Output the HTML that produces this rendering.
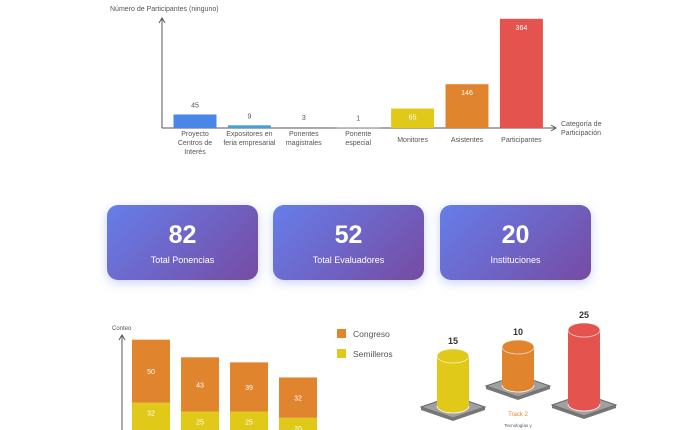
<!DOCTYPE html>
<html><head><meta charset="utf-8">
<style>
body{margin:0;background:#fff;font-family:"Liberation Sans",sans-serif;}
#wrap{position:relative;width:700px;height:430px;overflow:hidden;}
.card{position:absolute;top:205px;width:151px;height:75px;border-radius:11px;background:linear-gradient(135deg,#667eea,#764ba2);box-shadow:0 3px 10px rgba(102,126,234,0.35);color:#fff;text-align:center;}
.card .n{font-size:25px;font-weight:bold;margin-top:16px;line-height:28px;}
.card .l{font-size:9px;margin-top:6px;}
</style></head><body>
<div id="wrap">
<svg id="top" width="700" height="430" style="position:absolute;left:0;top:0"></svg>
<div class="card" style="left:107px"><div class="n">82</div><div class="l">Total Ponencias</div></div>
<div class="card" style="left:273px"><div class="n">52</div><div class="l">Total Evaluadores</div></div>
<div class="card" style="left:440px"><div class="n">20</div><div class="l">Instituciones</div></div>
</div>
<script>
const categories=[["Proyecto","Centros de","Interés"],["Expositores en","feria empresarial"],["Ponentes","magistrales"],["Ponente","especial"],["Monitores"],["Asistentes"],["Participantes"]];
const values=[45,9,3,1,65,146,364];
const barColors=["#4a86e8","#46a0d8","#9e9e9e","#9e9e9e","#e0c919","#e0842e","#e5534f"];
const stackCongreso=[50,43,39,32];
const stackSemilleros=[32,25,25,20];
const cylValues=[15,10,25];
const cylColors=["#e0c919","#e0842e","#e5534f"];
const NS="http://www.w3.org/2000/svg";
const svg=document.getElementById('top');
function mk(t,a,p){const e=document.createElementNS(NS,t);for(const k in a)e.setAttribute(k,a[k]);(p||svg).appendChild(e);return e;}
// top chart
const base=128,x0=162;
const ys=v=>base-v*0.3;
const xc=i=>195+i*54.4;
let t=mk('text',{x:110,y:11,'font-size':7,fill:'#555'});t.textContent='Número de Participantes (ninguno)';

let ax=mk('path',{d:`M${x0} ${base}V19M${x0-3} 23L${x0} 18L${x0+3} 23M${x0} ${base}H555M551 ${base-3}L556 ${base}L551 ${base+3}`,stroke:'#555',fill:'none','stroke-width':1});

t=mk('text',{x:561,y:126,'font-size':7,fill:'#555'});t.innerHTML='<tspan x="561">Categoría de</tspan><tspan x="561" dy="9">Participación</tspan>';

values.forEach((v,i)=>{
 const h=v*0.3;
 const r=mk('rect',{x:xc(i)-21.5,y:ys(v),width:43,height:Math.max(h,0.5),fill:barColors[i]});
 
 const inside=h>15;
 const l=mk('text',{x:xc(i),y:inside?ys(v)+11:ys(v)-7,'font-size':7,fill:inside?'#fff':'#555','text-anchor':'middle'});l.textContent=v;
 
 const c=mk('text',{x:xc(i),y:136,'font-size':7,fill:'#555','text-anchor':'middle'});
 
 categories[i].forEach((s,j)=>{const ts=mk('tspan',{x:xc(i),dy:j?9:0},c);ts.textContent=s;});
 if(categories[i].length==1)c.setAttribute('y',142);
});
// stacked chart
const sb=443,sk=1.26;
t=mk('text',{x:112,y:330,'font-size':6,fill:'#555'});t.textContent='Conteo';

ax=mk('path',{d:'M122 430V336M119 340L122 335L125 340',stroke:'#555',fill:'none'});

stackCongreso.forEach((c,i)=>{
 const x=132+i*49,s=stackSemilleros[i];
 const ry=sb-s*sk,cy=ry-c*sk;
 let r=mk('rect',{x:x,y:ry,width:38,height:s*sk,fill:'#e0c919'});
 
 r=mk('rect',{x:x,y:cy,width:38,height:c*sk,fill:'#e0842e'});
 
 let l=mk('text',{x:x+19,y:cy+c*sk/2+3,'font-size':7,fill:'#fff','text-anchor':'middle'});l.textContent=c;
 
 l=mk('text',{x:x+19,y:ry+13,'font-size':7,fill:'#fff','text-anchor':'middle'});l.textContent=s;
 
});
[["Congreso","#e0842e",329],["Semilleros","#e0c919",349]].forEach(([n,c,y])=>{
 const r=mk('rect',{x:337,y:y,width:9,height:9,fill:c});
 
 const l=mk('text',{x:353,y:y+8,'font-size':8.5,fill:'#555'});l.textContent=n;
 
});
// cylinders
const cx=[453,518,584],cb=[406,385,404];
cylValues.forEach((v,i)=>{
 const x=cx[i],b=cb[i],h=14+2.4*v,top=b-h,rx=16,ry=7;
 const g=mk('g',{});
 
 mk('path',{d:`M${x-32} ${b+1}L${x} ${b-10}L${x+32} ${b+1}L${x} ${b+12}Z`,fill:'#a0a0a0',stroke:'#666','stroke-width':1},g);
 mk('path',{d:`M${x-32} ${b+1}L${x} ${b+12}L${x+32} ${b+1}L${x+32} ${b+4}L${x} ${b+15}L${x-32} ${b+4}Z`,fill:'#777'},g);
 mk('path',{d:`M${x-rx} ${top}V${b}A${rx} ${ry} 0 0 0 ${x+rx} ${b}V${top}Z`,fill:cylColors[i]},g);
 mk('ellipse',{cx:x,cy:top,rx:rx,ry:ry,fill:cylColors[i],stroke:'#fff','stroke-width':0.8,'stroke-opacity':0.7},g);
 mk('path',{d:`M${x-rx} ${b}A${rx} ${ry} 0 0 0 ${x+rx} ${b}`,fill:'none',stroke:'#fff','stroke-width':0.8},g);
 const l=mk('text',{x:x,y:top-12,'font-size':9,'font-weight':'bold',fill:'#333','text-anchor':'middle'});l.textContent=v;
 
});
t=mk('text',{x:518,y:416,'font-size':6,fill:'#e0842e','text-anchor':'middle'});t.textContent='Track 2';

t=mk('text',{x:518,y:427,'font-size':4.5,fill:'#555','text-anchor':'middle'});t.textContent='Tecnologías y';

</script>
</body></html>
